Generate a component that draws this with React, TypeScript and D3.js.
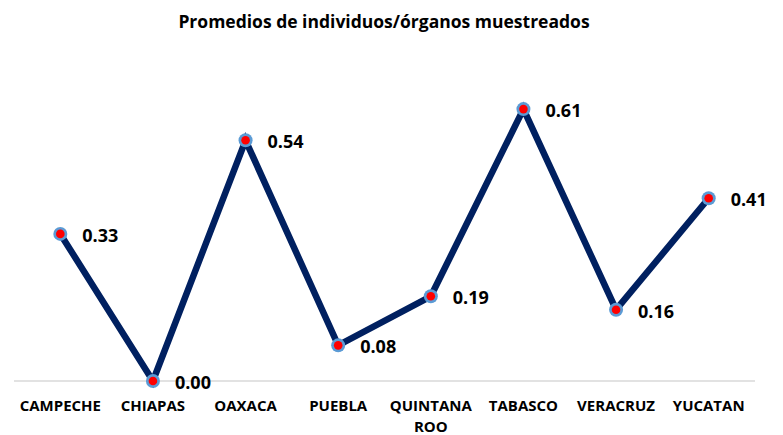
import React from 'react';
import * as d3 from 'd3';

const estados = ['CAMPECHE', 'CHIAPAS', 'OAXACA', 'PUEBLA', 'QUINTANA ROO', 'TABASCO', 'VERACRUZ', 'YUCATAN'];
const promedios = [0.33, 0.0, 0.54, 0.08, 0.19, 0.61, 0.16, 0.41];
const titulo = 'Promedios de individuos/órganos muestreados';

const W = 783;
const H = 435;
const font = '"Open Sans", sans-serif';

export default function App() {
  const x = d3.scaleBand<string>().domain(estados).range([14, 755]);
  const y = d3.scaleLinear().domain([0, 0.7]).range([381, 69]);
  const cx = (d: string) => (x(d) as number) + x.bandwidth() / 2;

  const puntos = estados.map((e, i) => ({ e, v: promedios[i] }));
  const linea = d3.line<{ e: string; v: number }>()
    .x((d) => cx(d.e))
    .y((d) => y(d.v));

  return (
    <svg width={W} height={H} style={{ position: 'absolute', left: 0, top: 0 }}>
      <rect width={W} height={H} fill="#fff" />
      <text x={384} y={28} textAnchor="middle" fontFamily={font} fontWeight="bold" fontSize={17.5} fill="#000">
        {titulo}
      </text>
      <line x1={x.range()[0]} x2={x.range()[1]} y1={y(0)} y2={y(0)} stroke="#d9d9d9" strokeWidth={1.5} />
      <path d={linea(puntos) || ''} fill="none" stroke="#002060" strokeWidth={6.5} strokeLinejoin="miter" />
      {puntos.map((d) => (
        <g key={d.e}>
          <circle cx={cx(d.e)} cy={y(d.v)} r={7} fill="#5b9bd5" />
          <circle cx={cx(d.e)} cy={y(d.v)} r={4.3} fill="#ff0000" />
          <text x={cx(d.e) + 22} y={y(d.v) + 8} fontFamily={font} fontWeight="bold" fontSize={18} fill="#000">
            {d.v.toFixed(2)}
          </text>
        </g>
      ))}
      {estados.map((e) => {
        const partes = e === 'QUINTANA ROO' ? ['QUINTANA', 'ROO'] : [e];
        return (
          <text key={e} x={cx(e)} y={411} textAnchor="middle" fontFamily={font} fontWeight="bold" fontSize={15} fill="#000">
            {partes.map((p, j) => (
              <tspan key={p} x={cx(e)} dy={j === 0 ? 0 : 21}>{p}</tspan>
            ))}
          </text>
        );
      })}
    </svg>
  );
}
